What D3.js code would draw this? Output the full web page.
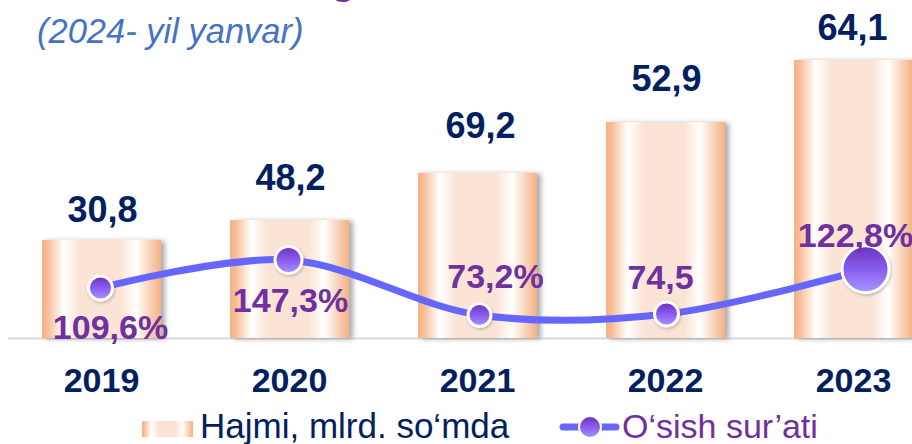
<!DOCTYPE html>
<html>
<head>
<meta charset="utf-8">
<script src="https://cdn.jsdelivr.net/npm/d3@7/dist/d3.min.js"></script>
<style>
  html, body { margin: 0; padding: 0; background: #fff; }
  svg { display: block; font-family: "Liberation Sans", Arial, sans-serif; }
</style>
</head>
<body>
<svg id="chart" width="912" height="444"></svg>
<script>
// ---- data ----
const years = ["2019", "2020", "2021", "2022", "2023"];
// bar lengths as drawn in the picture (relative units, 2023 = 100)
const barLength = [35.3, 42.4, 59.4, 77.7, 100];
// value labels printed above the bars
const volumeLabels = ["30,8", "48,2", "69,2", "52,9", "64,1"];
// growth rate, %
const growth = [109.6, 147.3, 73.2, 74.5, 122.8];
const growthLabels = ["109,6%", "147,3%", "73,2%", "74,5", "122,8%"];
const legendLabels = ["Hajmi, mlrd. so\u2018mda", "O\u2018sish sur\u2019ati"];
const subtitle = "(2024- yil yanvar)";

// ---- layout ----
const W = 912, H = 444;
const baseY = 338;
const svg = d3.select("#chart");

const x = d3.scaleBand().domain(years).range([42, 913]).paddingInner(0.367).paddingOuter(0);
const yBar = d3.scaleLinear().domain([0, 100]).range([baseY, 60]);
const yLine = d3.scaleLinear().domain([0, 200]).range([369.3, 220.9]);

const defs = svg.append("defs");
const bg = defs.append("linearGradient").attr("id", "barGrad").attr("x1", "0").attr("x2", "1").attr("y1", "0").attr("y2", "0");
[[0, "#F4B183"], [0.05, "#F6BE98"], [0.18, "#FFFFFF"], [0.32, "#FBE4D5"], [0.66, "#FBE4D5"], [0.79, "#FFFFFF"], [0.93, "#F7C9AA"], [1, "#F4B183"]]
  .forEach(([o, c]) => bg.append("stop").attr("offset", o).attr("stop-color", c));

const mg = defs.append("linearGradient").attr("id", "markGrad").attr("x1", "0").attr("x2", "0").attr("y1", "0").attr("y2", "1");
[[0, "#6A32B8"], [0.5, "#8A5CF0"], [1, "#A696FF"]].forEach(([o, c]) => mg.append("stop").attr("offset", o).attr("stop-color", c));

const sh = defs.append("filter").attr("id", "shadow").attr("x", "-20%").attr("y", "-20%").attr("width", "140%").attr("height", "140%");
sh.append("feDropShadow").attr("dx", 4).attr("dy", 1).attr("stdDeviation", 2.5).attr("flood-color", "#7f7f7f").attr("flood-opacity", 0.65);

const msh = defs.append("filter").attr("id", "mshadow").attr("x", "-30%").attr("y", "-30%").attr("width", "160%").attr("height", "160%");
msh.append("feDropShadow").attr("dx", 1).attr("dy", 1.5).attr("stdDeviation", 1.5).attr("flood-color", "#555").attr("flood-opacity", 0.35);

// partially visible title descender (cut off at the top)
svg.append("text").attr("x", 331).attr("y", -6).attr("fill", "#7030A0")
  .attr("font-size", 40).attr("font-weight", "bold").text("g");

// subtitle
svg.append("text").attr("x", 37).attr("y", 43).attr("fill", "#4472C4")
  .attr("font-size", 34.5).attr("font-style", "italic").text(subtitle);

// baseline
svg.append("line").attr("x1", 8).attr("x2", W).attr("y1", baseY + 0.5).attr("y2", baseY + 0.5)
  .attr("stroke", "#D9D9D9").attr("stroke-width", 2);

// bars
svg.append("g").selectAll("rect").data(years).join("rect")
  .attr("x", d => x(d))
  .attr("y", (d, i) => yBar(barLength[i]))
  .attr("width", x.bandwidth())
  .attr("height", (d, i) => baseY - yBar(barLength[i]))
  .attr("fill", "url(#barGrad)")
  .attr("filter", "url(#shadow)");

// value labels
const labelGap = [18, 30, 35, 31, 20];
const labelDx = [1, 1, 3, 1, -1];
svg.append("g").selectAll("text").data(years).join("text")
  .attr("x", (d, i) => x(d) + x.bandwidth() / 2 + labelDx[i])
  .attr("y", (d, i) => yBar(barLength[i]) - labelGap[i])
  .attr("text-anchor", "middle")
  .attr("fill", "#002060").attr("font-size", 36).attr("font-weight", "bold")
  .text((d, i) => volumeLabels[i]);

// year labels
svg.append("g").selectAll("text").data(years).join("text")
  .attr("x", d => x(d) + x.bandwidth() / 2)
  .attr("y", 392)
  .attr("text-anchor", "middle")
  .attr("fill", "#002060").attr("font-size", 34).attr("font-weight", "bold")
  .text(d => d);

// growth line
const markDx = [-1, -1, 2, 1, 12];
const markDy = [0, 0, 0, 0, -9];
const markR = [12, 13.5, 11.5, 12, 23.5];
const pts = years.map((d, i) => [x(d) + x.bandwidth() / 2 + markDx[i], yLine(growth[i]) + markDy[i]]);

svg.append("path")
  .attr("d", d3.line().curve(d3.curveCatmullRom.alpha(0.5))(pts))
  .attr("fill", "none").attr("stroke", "#6666FF").attr("stroke-width", 7).attr("stroke-linecap", "round");

svg.append("g").selectAll("circle").data(pts).join("circle")
  .attr("cx", d => d[0]).attr("cy", d => d[1])
  .attr("r", (d, i) => markR[i])
  .attr("fill", "url(#markGrad)")
  .attr("stroke", "#fff").attr("stroke-width", 3)
  .attr("filter", "url(#mshadow)");

// growth labels
const gDx = [10, 2, 16, -6, -10];
const gDy = [51, 52, -27, -25, -22];
svg.append("g").selectAll("text").data(pts).join("text")
  .attr("x", (d, i) => d[0] + gDx[i])
  .attr("y", (d, i) => d[1] + gDy[i])
  .attr("text-anchor", "middle")
  .attr("fill", "#7030A0").attr("font-size", 34).attr("font-weight", "bold")
  .text((d, i) => growthLabels[i]);

// legend
svg.append("rect").attr("x", 142).attr("y", 421).attr("width", 51).attr("height", 16).attr("fill", "url(#barGrad)");
svg.append("text").attr("x", 200).attr("y", 438).attr("fill", "#002060").attr("font-size", 35).text(legendLabels[0]);

svg.append("line").attr("x1", 563).attr("x2", 616).attr("y1", 427).attr("y2", 427)
  .attr("stroke", "#6666FF").attr("stroke-width", 7).attr("stroke-linecap", "round");
svg.append("circle").attr("cx", 590).attr("cy", 427).attr("r", 11)
  .attr("fill", "url(#markGrad)").attr("stroke", "#fff").attr("stroke-width", 2);
svg.append("text").attr("x", 622).attr("y", 438).attr("fill", "#7030A0").attr("font-size", 34).text(legendLabels[1]);
</script>
</body>
</html>
